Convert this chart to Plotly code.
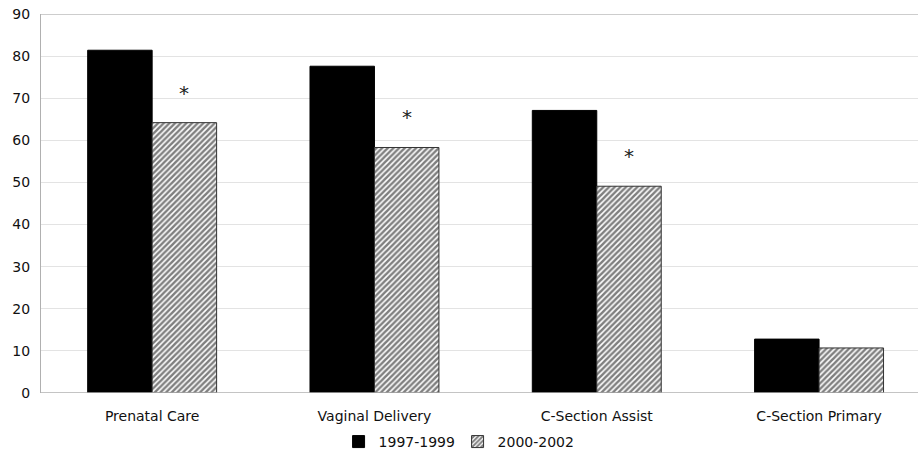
import plotly.graph_objects as go

categories = ["Prenatal Care", "Vaginal Delivery", "C-Section Assist", "C-Section Primary"]
series_1997_1999 = [81.4, 77.6, 67.1, 12.8]
series_2000_2002 = [64.2, 58.3, 49.1, 10.7]
significant = [True, True, True, False]
y_ticks = [0, 10, 20, 30, 40, 50, 60, 70, 80, 90]

FONT = "DejaVu Sans"
bargap = 0.42
bar_w = (1 - bargap) / 2

fig = go.Figure()
fig.add_trace(go.Bar(
    name="1997-1999", x=categories, y=series_1997_1999,
    marker=dict(color="black", line=dict(color="black", width=1)),
))
fig.add_trace(go.Bar(
    name="2000-2002", x=categories, y=series_2000_2002,
    marker=dict(color="white", line=dict(color="#333333", width=1),
                pattern=dict(shape="/", fgcolor="black", bgcolor="white", size=4, solidity=0.62)),
))

for i, (v, s) in enumerate(zip(series_2000_2002, significant)):
    if s:
        fig.add_annotation(x=i + bar_w / 2, y=v, text="*", showarrow=False,
                           yanchor="bottom", yshift=16,
                           font=dict(family=FONT, size=20, color="#222222"))

fig.update_layout(
    width=918, height=456,
    margin=dict(l=41, r=0, t=14, b=63, autoexpand=False),
    paper_bgcolor="white", plot_bgcolor="white",
    barmode="group", bargap=bargap, bargroupgap=0,
    font=dict(family=FONT, size=14, color="#111111"),
    showlegend=True,
    legend=dict(orientation="h", x=0.475, xanchor="center", y=-0.087, yanchor="top",
                font=dict(family=FONT, size=14), itemwidth=30, tracegroupgap=0,
                entrywidth=74, entrywidthmode="pixels"),
    xaxis=dict(range=[-0.5, 3.445], showgrid=False, showline=False, ticks="",
               automargin=False, tickfont=dict(family=FONT, size=14), ticklabelstandoff=13),
    yaxis=dict(range=[0, 90], tickvals=y_ticks, showgrid=True, gridcolor="#e3e3e3",
               gridwidth=1, zeroline=False, showline=True, linecolor="#b0b0b0",
               automargin=False, ticks="", tickfont=dict(family=FONT, size=14), ticklabelstandoff=7),
)
fig.add_shape(type="line", xref="paper", yref="y", x0=0, x1=1, y0=90, y1=90,
              line=dict(color="#bdbdbd", width=1.5))
fig.add_shape(type="line", xref="paper", yref="y", x0=0, x1=1, y0=0, y1=0,
              line=dict(color="#b0b0b0", width=1.5))

fig.write_html("out.html", config={"displayModeBar": False},
               post_script="document.body.style.margin='0';")
